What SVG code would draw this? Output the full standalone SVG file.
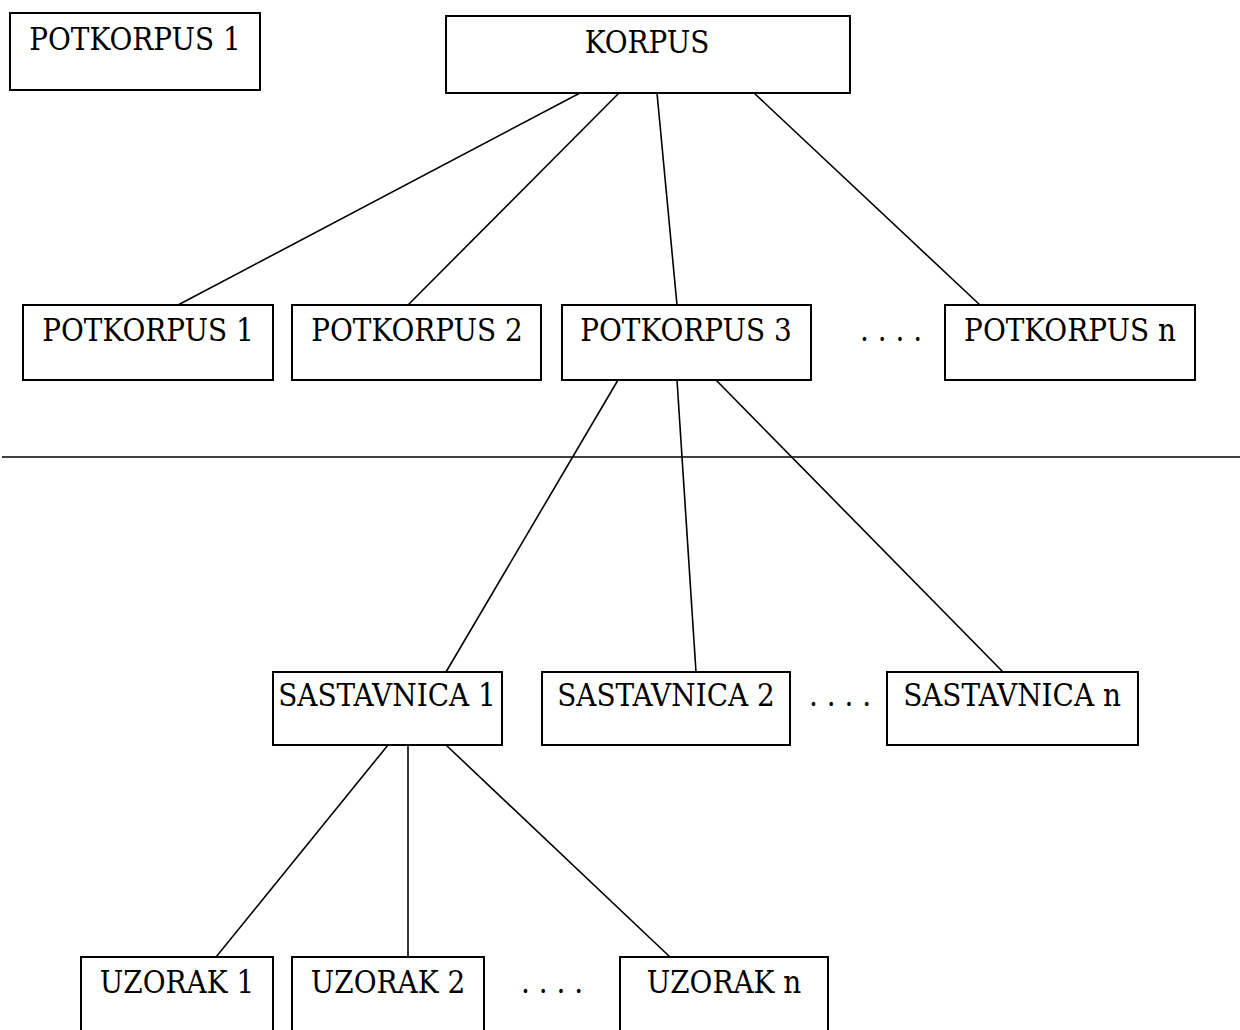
<svg xmlns="http://www.w3.org/2000/svg" width="1240" height="1030" viewBox="0 0 1240 1030">
<style>
.box{fill:#fff;stroke:#000;stroke-width:2}
.lbl{font-family:"DejaVu Serif Condensed","DejaVu Serif","Liberation Serif",serif;font-stretch:condensed;font-size:31px;fill:#000;text-anchor:middle}
.conn line{stroke:#000;stroke-width:1.6}
</style>
<rect width="1240" height="1030" fill="#fff"/>
<g class="conn" id="connectors">
<line x1="580" y1="93" x2="178" y2="305"/>
<line x1="619" y1="93" x2="408" y2="305"/>
<line x1="657" y1="93" x2="677" y2="305"/>
<line x1="754" y1="93" x2="980" y2="305"/>
<line x1="618" y1="380" x2="446" y2="672"/>
<line x1="677" y1="380" x2="696" y2="672"/>
<line x1="716" y1="380" x2="1003" y2="672"/>
<line x1="388" y1="745" x2="216" y2="957"/>
<line x1="408" y1="745" x2="408" y2="957"/>
<line x1="446" y1="745" x2="670" y2="957"/>
<line x1="2" y1="457" x2="1240" y2="457"/>
</g>
<g id="potkorpus1-top"><rect class="box" x="10" y="13" width="250" height="77"/><text class="lbl" x="135" y="50">POTKORPUS 1</text></g>
<g id="korpus"><rect class="box" x="446" y="16" width="404" height="77"/><text class="lbl" x="647" y="53">KORPUS</text></g>
<g id="potkorpus1"><rect class="box" x="23" y="305" width="250" height="75"/><text class="lbl" x="148" y="341">POTKORPUS 1</text></g>
<g id="potkorpus2"><rect class="box" x="292" y="305" width="249" height="75"/><text class="lbl" x="417" y="341">POTKORPUS 2</text></g>
<g id="potkorpus3"><rect class="box" x="562" y="305" width="249" height="75"/><text class="lbl" x="686" y="341">POTKORPUS 3</text></g>
<text class="lbl" x="891" y="341">. . . .</text>
<g id="potkorpusn"><rect class="box" x="945" y="305" width="250" height="75"/><text class="lbl" x="1070" y="341">POTKORPUS n</text></g>
<g id="sastavnica1"><rect class="box" x="273" y="672" width="229" height="73"/><text class="lbl" x="387" y="706">SASTAVNICA 1</text></g>
<g id="sastavnica2"><rect class="box" x="542" y="672" width="248" height="73"/><text class="lbl" x="666" y="706">SASTAVNICA 2</text></g>
<text class="lbl" x="840" y="706">. . . .</text>
<g id="sastavnican"><rect class="box" x="887" y="672" width="251" height="73"/><text class="lbl" x="1012" y="706">SASTAVNICA n</text></g>
<g id="uzorak1"><rect class="box" x="81" y="957" width="192" height="90"/><text class="lbl" x="177" y="993">UZORAK 1</text></g>
<g id="uzorak2"><rect class="box" x="292" y="957" width="192" height="90"/><text class="lbl" x="388" y="993">UZORAK 2</text></g>
<text class="lbl" x="552" y="993">. . . .</text>
<g id="uzorakn"><rect class="box" x="620" y="957" width="208" height="90"/><text class="lbl" x="724" y="993">UZORAK n</text></g>
</svg>
